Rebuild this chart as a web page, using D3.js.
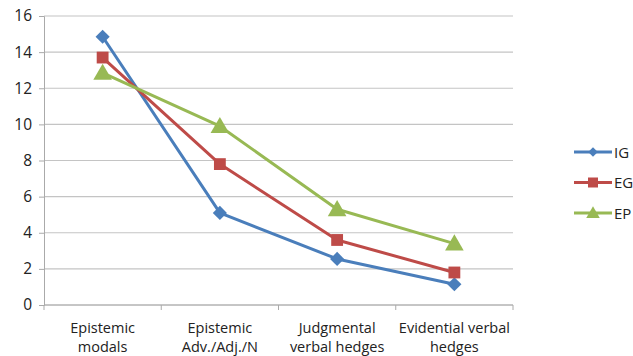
<!DOCTYPE html>
<html><head><meta charset="utf-8">
<script src="https://cdn.jsdelivr.net/npm/d3@7"></script>
<style>body{margin:0;background:#fff}svg{display:block}text{font-family:"Open Sans","Liberation Sans",sans-serif;fill:#222}</style>
</head><body><svg id="c" width="633" height="356"></svg>
<script>
const categories = [["Epistemic","modals"],["Epistemic","Adv./Adj./N"],["Judgmental","verbal hedges"],["Evidential verbal","hedges"]];
const seriesNames = ["IG","EG","EP"];
const IG = [14.85, 5.1, 2.55, 1.15];
const EG = [13.7, 7.8, 3.6, 1.8];
const EP = [12.85, 9.9, 5.3, 3.4];
const yTicks = [0,2,4,6,8,10,12,14,16];
const colors = ["#4a7ebb","#be4b48","#98b954"];
const symbols = [d3.symbolSquare, d3.symbolSquare, d3.symbolTriangle];
const rot = [45, 0, 0];
const data = [IG, EG, EP];

const svg = d3.select("#c");
const x0 = 44, x1 = 513, yTop = 16, yBot = 305;
const x = d3.scaleBand().domain(d3.range(categories.length)).range([x0, x1]);
const y = d3.scaleLinear().domain([0,16]).range([yBot, yTop]);

// gridlines
svg.append("g").selectAll("line").data(yTicks).join("line")
  .attr("x1", x0).attr("x2", x1).attr("y1", d=>y(d)).attr("y2", d=>y(d))
  .attr("stroke", "#c4c4c4").attr("stroke-width", 1.2);

// y axis
const ya = svg.append("g").attr("transform", `translate(${x0},0)`)
  .call(d3.axisLeft(y).tickValues(yTicks).tickSize(5).tickPadding(7));
ya.select(".domain").attr("stroke", "#aaa");
ya.selectAll(".tick line").attr("stroke", "#aaa");
ya.selectAll("text").attr("font-size", 15.5).style("font-family", '"Open Sans",sans-serif').attr("fill","#222");

// x axis
const xa = svg.append("g").attr("transform", `translate(0,${yBot})`);
xa.append("line").attr("x1", x0).attr("x2", x1).attr("stroke", "#aaa");
const bounds = d3.range(categories.length + 1).map(i => i < categories.length ? x(i) : x1);
xa.selectAll("line.t").data(bounds).join("line").attr("class","t")
  .attr("x1", d=>d).attr("x2", d=>d).attr("y1", 0).attr("y2", 5).attr("stroke", "#aaa");
const lab = xa.selectAll("text").data(categories).join("text")
  .attr("x", (d,i)=>x(i)+x.bandwidth()/2).attr("y", 28).attr("text-anchor","middle").attr("font-size", 14.5);
lab.selectAll("tspan").data(d=>d).join("tspan")
  .attr("x", function(){ return this.parentNode.getAttribute("x"); })
  .attr("dy", (d,i)=> i===0 ? 0 : 19).text(d=>d);

// lines & markers
const line = d3.line().x((d,i)=>x(i)+x.bandwidth()/2).y(d=>y(d));
const sizes = [100, 140, 150];
data.forEach((s, k) => {
  svg.append("path").datum(s).attr("d", line).attr("fill","none")
    .attr("stroke", colors[k]).attr("stroke-width", 3).attr("stroke-linejoin","round");
});
data.forEach((s, k) => {
  svg.append("g").selectAll("path").data(s).join("path")
    .attr("transform", (d,i)=>`translate(${x(i)+x.bandwidth()/2},${y(d) + (k===2?1.5:0)}) rotate(${rot[k]})`)
    .attr("d", d3.symbol().type(symbols[k]).size(sizes[k])).attr("fill", colors[k]);
});

// legend
const lg = svg.append("g");
seriesNames.forEach((n, k) => {
  const ly = 152 + k*30.5;
  lg.append("line").attr("x1", 574).attr("x2", 612).attr("y1", ly).attr("y2", ly)
    .attr("stroke", colors[k]).attr("stroke-width", 3);
  lg.append("path").attr("transform", `translate(593,${ly + (k===2?1:0)}) rotate(${rot[k]})`)
    .attr("d", d3.symbol().type(symbols[k]).size(k===0?45:(k===1?100:80))).attr("fill", colors[k]);
  lg.append("text").attr("x", 614).attr("y", ly + 5.5).attr("font-size", 15).text(n);
});
</script></body></html>
